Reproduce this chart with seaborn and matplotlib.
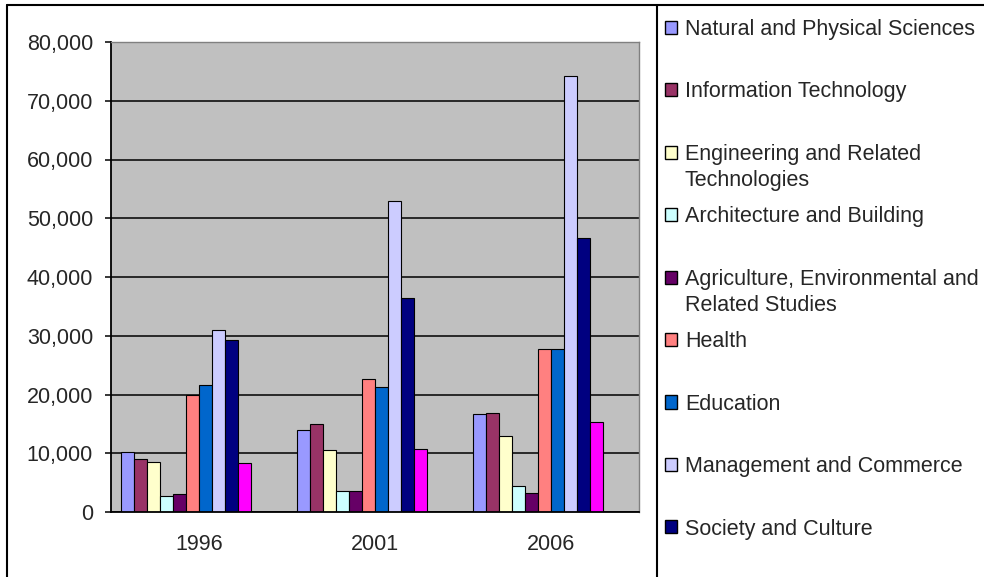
"""
plot.py

Grouped bar chart of enrolments by field of study, 1996-2006 (Excel style).
"""

import matplotlib

matplotlib.use("Agg")

import matplotlib.pyplot as plt
import pandas as pd
import seaborn as sns
from matplotlib.lines import Line2D
from matplotlib.patches import Patch
from matplotlib.ticker import StrMethodFormatter

sns.set_style("white")
plt.rcParams["font.family"] = ["Liberation Sans", "DejaVu Sans"]

NAN = float("nan")
FS = 15.5

years = ["1996", "2001", "2006"]

fields = [
    "Natural and Physical Sciences",
    "Information Technology",
    "Engineering and Related Technologies",
    "Architecture and Building",
    "Agriculture, Environmental and Related Studies",
    "Health",
    "Education",
    "Management and Commerce",
    "Society and Culture",
    "Creative Arts",
    "Food, Hospitality and Personal Services",
    "Mixed Field Programmes",
]

# legend lines as Excel wraps them; the box only has room for the first nine
legend_lines = [
    ["Natural and Physical Sciences"],
    ["Information Technology"],
    ["Engineering and Related", "Technologies"],
    ["Architecture and Building"],
    ["Agriculture, Environmental and", "Related Studies"],
    ["Health"],
    ["Education"],
    ["Management and Commerce"],
    ["Society and Culture"],
]

colors = [
    "#9999FF", "#993366", "#FFFFCC", "#CCFFFF", "#660066", "#FF8080",
    "#0066CC", "#CCCCFF", "#000080", "#FF00FF", "#FFFF00", "#00FFFF",
]

natural = [10200, 14000, 16600]
info_tech = [9100, 14900, 16900]
engineering = [8500, 10500, 12900]
architecture = [2700, 3600, 4500]
agriculture = [3100, 3600, 3300]
health = [20000, 22600, 27800]
education = [21700, 21200, 27800]
management = [31000, 52900, 74200]
society = [29300, 36500, 46600]
creative = [8300, 10800, 15400]
food = [NAN, NAN, NAN]
mixed = [NAN, NAN, NAN]

series = [natural, info_tech, engineering, architecture, agriculture, health,
          education, management, society, creative, food, mixed]

rows = []
for field, values in zip(fields, series):
    for year, v in zip(years, values):
        rows.append({"Year": year, "Field": field, "Students": v})
df = pd.DataFrame(rows).dropna()

W, H = 984, 577
fig = plt.figure(figsize=(W / 100, H / 100), dpi=100)
ax = fig.add_axes([111 / W, 1 - 512 / H, (639 - 111) / W, (512 - 42) / H])

sns.barplot(
    data=df, x="Year", y="Students", hue="Field",
    order=years, hue_order=fields, palette=colors, saturation=1,
    width=12 / 13.5, edgecolor="black", linewidth=0.8,
    legend=False, ax=ax,
)

ax.set_facecolor("#C0C0C0")
ax.set_axisbelow(True)
ax.set_ylim(0, 80000)
ax.set_xlim(-0.5, 2.5)
ax.set_yticks(range(0, 80001, 10000))
ax.yaxis.set_major_formatter(StrMethodFormatter("{x:,.0f}"))
ax.yaxis.grid(True, color="black", linewidth=1.1)
ax.xaxis.grid(False)
ax.set_xlabel("")
ax.set_ylabel("")

ax.set_xticks([-0.5, 0.5, 1.5, 2.5], minor=True)
ax.tick_params(axis="x", which="major", length=0, pad=15.5, labelsize=FS)
ax.tick_params(axis="x", which="minor", length=4.3, width=1.1, color="black",
               direction="out")
ax.tick_params(axis="y", length=4.3, width=1.1, color="black", pad=8.6,
               labelsize=FS, direction="out", left=True)

for side in ["left", "bottom"]:
    ax.spines[side].set_color("black")
    ax.spines[side].set_linewidth(1.3)
for side in ["top", "right"]:
    ax.spines[side].set_color("#808080")
    ax.spines[side].set_linewidth(1.0)

# outer chart border and legend border
fig.add_artist(Line2D([7 / W, 7 / W], [0, 1 - 5 / H], color="black",
                      linewidth=1.5, transform=fig.transFigure))
fig.add_artist(Line2D([7 / W, 1], [1 - 5 / H, 1 - 5 / H], color="black",
                      linewidth=1.5, transform=fig.transFigure))
fig.add_artist(Line2D([657 / W, 657 / W], [0, 1 - 5 / H], color="black",
                      linewidth=1.5, transform=fig.transFigure))

handles = [Patch(facecolor=c, edgecolor="black", linewidth=1.0)
           for c in colors[:len(legend_lines)]]
leg = fig.legend(
    handles, [lines[0] for lines in legend_lines],
    loc="upper left", bbox_to_anchor=(665 / W, 1 - 19 / H),
    frameon=False, fontsize=FS, handlelength=0.56, handleheight=0.56,
    handletextpad=0.36, labelspacing=1.925, borderpad=0, borderaxespad=0,
)

# second lines of wrapped legend entries, placed under their first line
fig.canvas.draw()
for text, lines in zip(leg.get_texts(), legend_lines):
    if len(lines) > 1:
        bb = text.get_window_extent()
        fig.text(bb.x0 / W, (bb.y0 - 26) / H, lines[1], ha="left",
                 va="bottom", fontsize=FS)

fig.savefig("out.png", dpi=100)
